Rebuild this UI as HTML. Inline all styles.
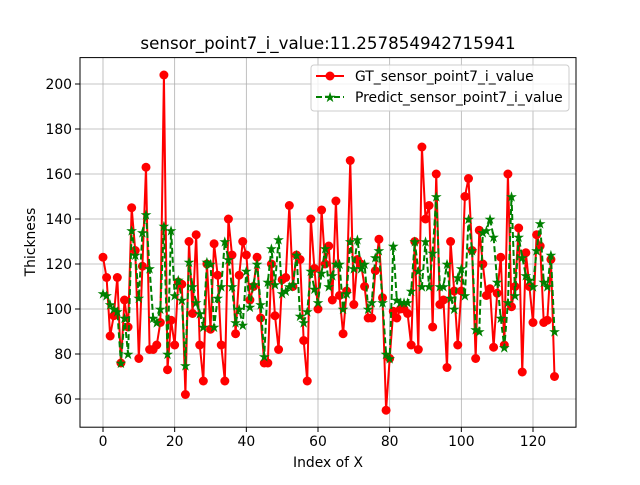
<!DOCTYPE html>
<html><head><meta charset="utf-8"><style>
body{margin:0;background:#fff}
svg{font-family:"DejaVu Sans","Liberation Sans",sans-serif}
</style></head><body>
<svg id="chart" width="640" height="480" xmlns="http://www.w3.org/2000/svg">
<rect width="640" height="480" fill="#fff"/>
<g id="grid"></g>
<g id="series"></g>
<rect x="80" y="57.6" width="496" height="369.6" fill="none" stroke="#000" stroke-width="1"/>
<g id="axes"></g>
<text x="328" y="49" text-anchor="middle" font-size="16.7">sensor_point7_i_value:11.257854942715941</text>
<text x="328" y="467" text-anchor="middle" font-size="13.9">Index of X</text>
<text x="35" y="242" text-anchor="middle" font-size="13.9" transform="rotate(-90 35 242)">Thickness</text>
<g>
<rect x="311" y="65" width="258" height="46" rx="3" fill="#fff" fill-opacity="0.8" stroke="#ccc"/>
<line x1="316" y1="76" x2="344" y2="76" stroke="red" stroke-width="2"/>
<circle cx="330" cy="76" r="4.5" fill="red"/>
<text x="355" y="81" font-size="13.9">GT_sensor_point7_i_value</text>
<line x1="316" y1="97" x2="344" y2="97" stroke="green" stroke-width="2" stroke-dasharray="6,3"/>
<text x="330" y="102" text-anchor="middle" font-size="14" fill="green">★</text>
<text x="355" y="102" font-size="13.9">Predict_sensor_point7_i_value</text>
</g>
</svg>
<script>
const gtValues=[123,114,88,97,114,76,104,92,145,126,78,119,163,82,82,84,94,204,73,95,84,112,111,62,130,98,133,84,68,120,91,129,115,84,68,140,124,89,115,130,124,104,110,123,96,76,76,120,97,82,113,114,146,110,124,122,86,68,140,118,100,144,120,128,104,148,106,89,108,166,102,122,120,110,96,96,117,131,105,55,78,99,96,100,100,98,84,130,82,172,140,146,92,160,102,104,74,130,108,84,108,150,158,126,78,135,120,106,109,83,107,123,84,160,101,110,136,72,125,110,94,133,128,94,95,122,70];
const predValues=[107,106,102,100,99,76,96,80,135,124,105,134,142,118,96,94,100,137,80,135,106,113,104,75,121,110,103,98,92,121,120,92,105,110,130,122,110,94,100,93,117,101,111,120,102,79,112,127,111,131,107,108,110,111,124,97,94,99,117,109,103,116,127,110,115,120,120,100,107,130,118,131,118,120,100,103,123,126,103,80,78,128,104,103,103,103,108,130,117,110,130,110,125,150,110,110,120,105,100,114,118,106,140,126,91,90,134,135,140,132,112,96,83,103,150,106,132,123,115,113,110,126,138,112,110,124,90];
const xTicks=[0,20,40,60,80,100,120];
const yTicks=[60,80,100,120,140,160,180,200];
const NS="http://www.w3.org/2000/svg";
const xs=v=>103+v*(430/120);
const ys=v=>399-(v-60)*(315/140);
function mk(tag,attrs,parent){const e=document.createElementNS(NS,tag);for(const k in attrs)e.setAttribute(k,attrs[k]);parent.appendChild(e);return e;}
const grid=document.getElementById('grid'),axes=document.getElementById('axes'),ser=document.getElementById('series');
xTicks.forEach(t=>{const x=xs(t);
 const g=mk('line',{x1:x,x2:x,y1:57.6,y2:427.2,stroke:'#b0b0b0','stroke-width':0.8},grid);
 
 
 mk('line',{x1:x,x2:x,y1:427.2,y2:432,stroke:'#000'},axes);
 const l=mk('text',{x:x,y:446,'text-anchor':'middle','font-size':13.9},axes);l.textContent=t;
 
 
});
yTicks.forEach(t=>{const y=ys(t);
 const g=mk('line',{x1:80,x2:576,y1:y,y2:y,stroke:'#b0b0b0','stroke-width':0.8},grid);
 
 
 mk('line',{x1:75,x2:80,y1:y,y2:y,stroke:'#000'},axes);
 const l=mk('text',{x:72,y:y+5,'text-anchor':'end','font-size':13.9},axes);l.textContent=t;
 
 
});
const gp=gtValues.map((v,i)=>xs(i)+','+ys(v)).join(' ');
const gl=mk('polyline',{points:gp,fill:'none',stroke:'red','stroke-width':2},ser);


gtValues.forEach((v,i)=>{const c=mk('circle',{cx:xs(i),cy:ys(v),r:4.5,fill:'red'},ser);
 
 });
const pp=predValues.map((v,i)=>xs(i)+','+ys(v)).join(' ');
const pl=mk('polyline',{points:pp,fill:'none',stroke:'green','stroke-width':2,'stroke-dasharray':'6,3'},ser);


predValues.forEach((v,i)=>{const s=mk('text',{x:xs(i),y:ys(v)+5,'text-anchor':'middle','font-size':14,fill:'green'},ser);s.textContent='★';
 
 });
</script>
</body></html>
